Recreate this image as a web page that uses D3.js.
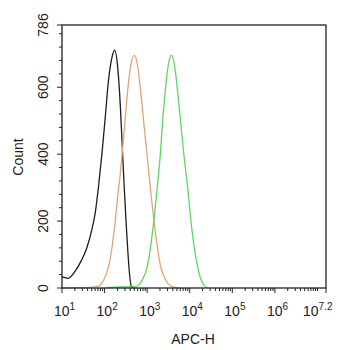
<!DOCTYPE html>
<html>
<head>
<meta charset="utf-8">
<script src="https://cdn.jsdelivr.net/npm/d3@7"></script>
<style>
  body { margin: 0; background: #fff; }
  svg { display: block; font-family: "Liberation Sans", Arial, sans-serif; }
</style>
</head>
<body>
<div id="chart"></div>
<script>
// APC-H intensity and count for each histogram
const blackX = [10, 14, 20, 29, 38, 50, 60, 72, 87, 104, 124, 150, 172, 203, 235, 267, 292, 321, 350, 384, 428, 485];
const blackY = [33, 29, 49, 84, 119, 173, 223, 303, 403, 512, 622, 691, 711, 661, 542, 392, 293, 193, 114, 44, 4, 0];

const orangeX = [10, 20, 30, 66, 95, 124, 150, 179, 203, 235, 267, 308, 350, 406, 500, 583, 698, 836, 1005, 1202, 1439, 1734, 2075, 2723, 3917, 5610];
const orangeY = [0, 1, 1, 4, 24, 64, 123, 203, 273, 343, 422, 512, 592, 661, 695, 672, 592, 492, 392, 293, 203, 123, 64, 24, 4, 0];

const greenX = [110, 235, 532, 766, 1005, 1202, 1439, 1734, 2075, 2350, 2723, 3083, 3715, 4446, 5152, 6166, 7379, 8872, 10617, 12706, 15276, 20091, 26363];
const greenY = [1, 3, 4, 24, 64, 123, 203, 303, 412, 512, 602, 661, 696, 661, 592, 492, 392, 303, 203, 123, 64, 14, 0];

const yTicks = [0, 200, 400, 600, 786];
const xExps = ['1', '2', '3', '4', '5', '6', '7.2'];

const width = 342, height = 350;
const margin = { top: 25, right: 16, bottom: 62, left: 62 };

const svg = d3.select('#chart')
    .append('svg')
    .attr('width', width)
    .attr('height', height);

const x = d3.scaleLog()
    .domain([10, Math.pow(10, 7.2)])
    .range([margin.left, width - margin.right]);

const y = d3.scaleLinear()
    .domain([0, 786])
    .range([height - margin.bottom, margin.top]);

const x0 = margin.left, x1 = width - margin.right;
const y0 = height - margin.bottom, y1 = margin.top;

// histograms
const series = [
    { xs: blackX, ys: blackY, color: '#1e1e1e' },
    { xs: orangeX, ys: orangeY, color: '#e5a476' },
    { xs: greenX, ys: greenY, color: '#5fd85f' }
];

const line = d3.line()
    .x(d => x(d[0]))
    .y(d => y(d[1]))
    .curve(d3.curveMonotoneX);

series.forEach(s => {
    svg.append('path')
        .datum(s.xs.map((v, i) => [v, s.ys[i]]))
        .attr('fill', 'none')
        .attr('stroke', s.color)
        .attr('stroke-width', 1.3)
        .attr('d', line);
});

// frame
svg.append('rect')
    .attr('x', x0)
    .attr('y', y1)
    .attr('width', x1 - x0)
    .attr('height', y0 - y1)
    .attr('fill', 'none')
    .attr('stroke', '#222')
    .attr('stroke-width', 1.3);

// y axis ticks
const yMinor = d3.range(0, 786, 40);
svg.selectAll('.ytick')
    .data(yMinor)
    .enter()
    .append('line')
    .attr('x1', x0)
    .attr('x2', d => yTicks.includes(d) ? x0 - 5 : x0 - 3)
    .attr('y1', d => y(d))
    .attr('y2', d => y(d))
    .attr('stroke', '#222');

svg.append('line')
    .attr('x1', x0).attr('x2', x0 - 5)
    .attr('y1', y(786)).attr('y2', y(786))
    .attr('stroke', '#222');

svg.selectAll('.ylab')
    .data(yTicks)
    .enter()
    .append('text')
    .attr('transform', d => `translate(48,${y(d)}) rotate(-90)`)
    .attr('text-anchor', 'middle')
    .attr('font-size', 14)
    .attr('fill', '#222')
    .text(d => d);

// x axis ticks (log minor)
const xMinor = [];
for (let e = 1; e <= 7; e++) {
    for (let m = 1; m <= 9; m++) {
        const v = m * Math.pow(10, e);
        if (v < Math.pow(10, 7.2)) xMinor.push({ v: v, major: m === 1 && e < 7 });
    }
}
xMinor.push({ v: Math.pow(10, 7.2), major: true });

svg.selectAll('.xtick')
    .data(xMinor)
    .enter()
    .append('line')
    .attr('x1', d => x(d.v))
    .attr('x2', d => x(d.v))
    .attr('y1', y0)
    .attr('y2', d => d.major ? y0 + 5 : y0 + 3)
    .attr('stroke', '#222');

const xLab = svg.selectAll('.xlab')
    .data(xExps)
    .enter()
    .append('text')
    .attr('x', (d, i) => i === xExps.length - 1 ? 303 : x(Math.pow(10, +d)) - 8)
    .attr('y', 316)
    .attr('font-size', 14)
    .attr('fill', '#222');

xLab.append('tspan').text('10');
xLab.append('tspan')
    .attr('dy', -6)
    .attr('font-size', 10)
    .text(d => d);

// axis titles
svg.append('text')
    .attr('x', 193)
    .attr('y', 344)
    .attr('text-anchor', 'middle')
    .attr('font-size', 14)
    .attr('fill', '#222')
    .text('APC-H');

svg.append('text')
    .attr('transform', `translate(23,157) rotate(-90)`)
    .attr('text-anchor', 'middle')
    .attr('font-size', 14)
    .attr('fill', '#222')
    .text('Count');
</script>
</body>
</html>
